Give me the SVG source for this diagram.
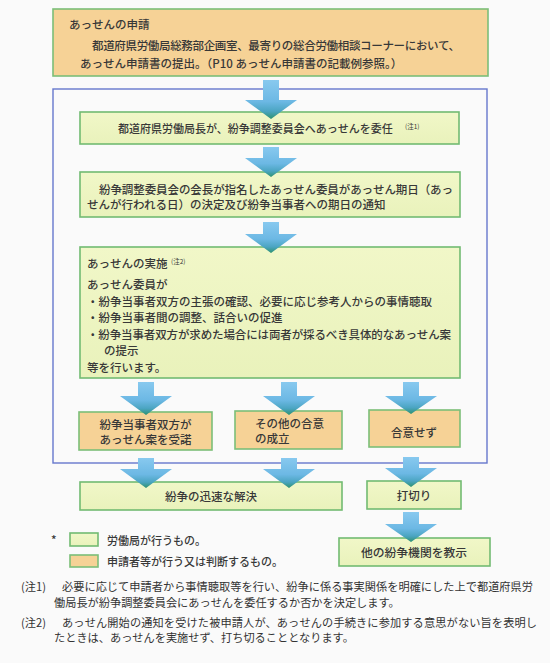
<svg xmlns="http://www.w3.org/2000/svg" width="550" height="663" viewBox="0 0 550 663">
<defs>
<linearGradient id="ag" x1="0" y1="0" x2="0" y2="1">
<stop offset="0" stop-color="#88c9ef"/>
<stop offset="0.55" stop-color="#6cb8e4"/>
<stop offset="0.8" stop-color="#4ba5c2"/>
<stop offset="1" stop-color="#2e9270"/>
</linearGradient>
<linearGradient id="gg" x1="0" y1="0" x2="0" y2="1">
<stop offset="0" stop-color="#f1f7c8"/>
<stop offset="1" stop-color="#e9f2bb"/>
</linearGradient>
<style>
.g{fill:url(#gg);stroke:#72bb72;stroke-width:1.6}
.o{fill:#f6d296;stroke:#7cbf78;stroke-width:1.6}
.fr{fill:none;stroke:#6577cc;stroke-width:1.4}
.ar{fill:url(#ag);stroke:none}
text{font-family:"Noto Sans CJK JP","Noto Sans",sans-serif;font-size:11.5px;font-weight:500;fill:#383838}
.c{text-anchor:middle}
.sup{font-size:6.5px;font-weight:400}
.n{font-size:11.2px;font-weight:400;fill:#333}
</style>
</defs>
<rect width="550" height="663" fill="#fafafa"/>
<g id="frame"><rect class="fr" x="53" y="89" width="434" height="374"/></g>
<g id="n-apply">
<rect class="o" x="53" y="9" width="435" height="67"/>
<text x="69" y="29">あっせんの申請</text>
<text x="92" y="49.5" textLength="368" lengthAdjust="spacing">都道府県労働局総務部企画室、最寄りの総合労働相談コーナーにおいて、</text>
<text x="80" y="67.5">あっせん申請書の提出。（P10 あっせん申請書の記載例参照。）</text>
</g>
<g id="n-entrust">
<rect class="g" x="80" y="112" width="379" height="32"/>
<text x="118" y="133" style="font-size:11px">都道府県労働局長が、紛争調整委員会へあっせんを委任</text>
<text class="sup" x="405" y="128.5">(注1)</text>
</g>
<g id="n-notify">
<rect class="g" x="80" y="172" width="380" height="45"/>
<text x="99" y="193.5" textLength="354" lengthAdjust="spacing">紛争調整委員会の会長が指名したあっせん委員があっせん期日（あっ</text>
<text x="87" y="208.5">せんが行われる日）の決定及び紛争当事者への期日の通知</text>
</g>
<g id="n-conduct">
<rect class="g" x="80" y="247" width="380" height="131"/>
<text x="87" y="267.5">あっせんの実施</text>
<text class="sup" x="171" y="264">(注2)</text>
<text x="87" y="289">あっせん委員が</text>
<text x="87" y="305.5">・紛争当事者双方の主張の確認、必要に応じ参考人からの事情聴取</text>
<text x="87" y="322">・紛争当事者間の調整、話合いの促進</text>
<text x="87" y="338.5" textLength="364" lengthAdjust="spacing">・紛争当事者双方が求めた場合には両者が採るべき具体的なあっせん案</text>
<text x="104" y="355">の提示</text>
<text x="87" y="371.5">等を行います。</text>
</g>
<g id="n-accept">
<rect class="o" x="79" y="412" width="133" height="38"/>
<text class="c" x="145.5" y="429">紛争当事者双方が</text>
<text class="c" x="145.5" y="443.5">あっせん案を受諾</text>
</g>
<g id="n-other">
<rect class="o" x="235" y="411" width="107" height="38"/>
<text x="255" y="428">その他の合意</text>
<text x="255" y="442.5">の成立</text>
</g>
<g id="n-noagree">
<rect class="o" x="369" y="410" width="91" height="37"/>
<text class="c" x="414" y="436.5">合意せず</text>
</g>
<g id="n-resolve">
<rect class="g" x="80" y="482" width="262" height="28"/>
<text class="c" x="211" y="500.5">紛争の迅速な解決</text>
</g>
<g id="n-terminate">
<rect class="g" x="367" y="481" width="94" height="28"/>
<text class="c" x="414" y="499.5">打切り</text>
</g>
<g id="n-refer">
<rect class="g" x="339" y="538" width="151" height="28"/>
<text class="c" x="414" y="557" style="font-size:11.8px">他の紛争機関を教示</text>
</g>
<g id="legend">
<text x="51" y="544">*</text>
<rect class="g" x="70" y="533" width="28" height="13"/>
<text x="107" y="544.5" style="font-size:11px">労働局が行うもの。</text>
<rect class="o" x="70" y="555" width="28" height="12"/>
<text x="107" y="565.5" style="font-size:11px">申請者等が行う又は判断するもの。</text>
</g>
<g id="notes">
<text class="n" x="21" y="591">(注1)</text>
<text class="n" x="62" y="591" textLength="471" lengthAdjust="spacing">必要に応じて申請者から事情聴取等を行い、紛争に係る事実関係を明確にした上で都道府県労</text>
<text class="n" x="54" y="607">働局長が紛争調整委員会にあっせんを委任するか否かを決定します。</text>
<text class="n" x="21" y="627">(注2)</text>
<text class="n" x="62" y="627" textLength="475" lengthAdjust="spacing">あっせん開始の通知を受けた被申請人が、あっせんの手続きに参加する意思がない旨を表明し</text>
<text class="n" x="54" y="642">たときは、あっせんを実施せず、打ち切ることとなります。</text>
</g>
<g id="connectors">
<path class="ar" d="M263,80 H279 V100 H297 L271,119 L245,100 H263 Z"/>
<path class="ar" d="M263,147 H279 V158 H297 L271,177 L245,158 H263 Z"/>
<path class="ar" d="M263,222 H279 V234 H297 L271,253 L245,234 H263 Z"/>
<path class="ar" d="M138,382 H154 V396 H172 L146,415 L120,396 H138 Z"/>
<path class="ar" d="M281,382 H297 V396 H315 L289,415 L263,396 H281 Z"/>
<path class="ar" d="M403,382 H419 V396 H437 L411,414 L385,396 H403 Z"/>
<path class="ar" d="M138,458 H154 V469 H172 L146,488 L120,469 H138 Z"/>
<path class="ar" d="M281,458 H297 V469 H315 L289,488 L263,469 H281 Z"/>
<path class="ar" d="M403,457 H419 V468 H437 L411,487 L385,468 H403 Z"/>
<path class="ar" d="M403,512 H419 V524 H437 L411,542 L385,524 H403 Z"/>
</g>
</svg>
